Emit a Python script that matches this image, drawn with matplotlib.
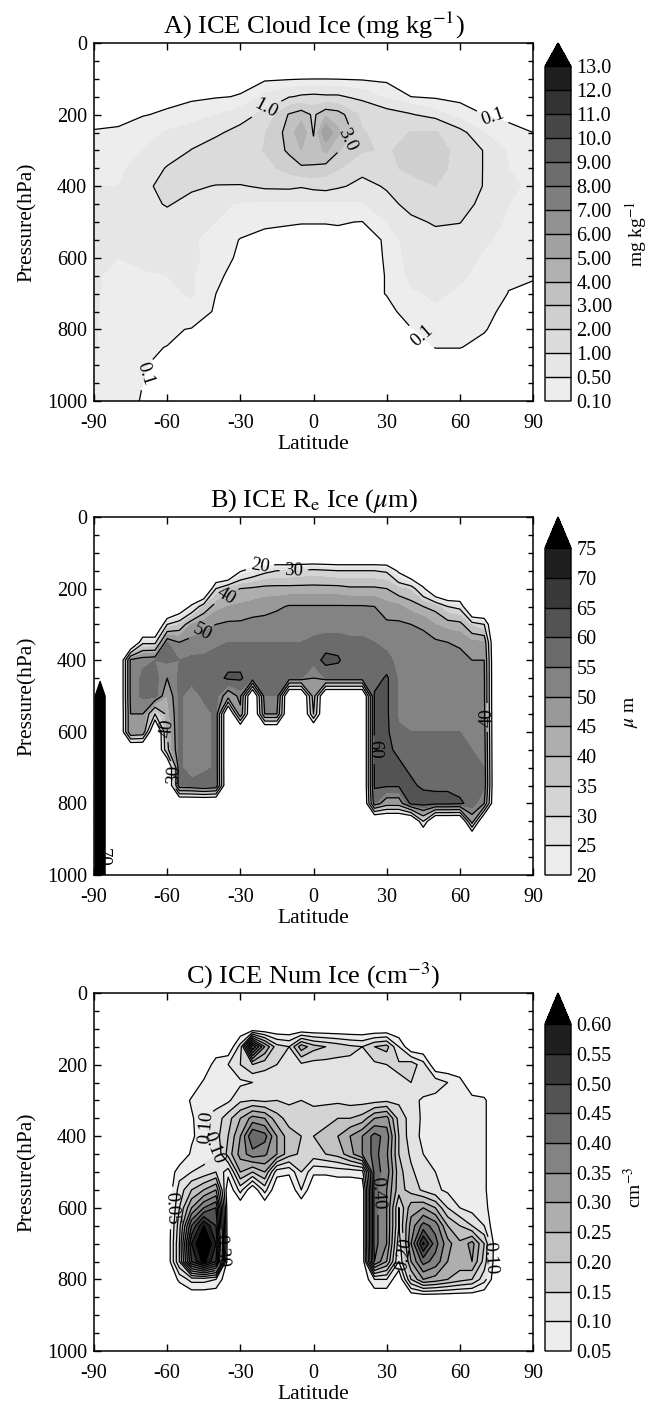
import numpy as np
import matplotlib
matplotlib.use("Agg")
import matplotlib.pyplot as plt
from matplotlib.colors import ListedColormap, BoundaryNorm

plt.rcParams["font.family"] = ["Liberation Serif", "DejaVu Serif"]
plt.rcParams["mathtext.fontset"] = "stix"
plt.rcParams["axes.unicode_minus"] = False

# pressure levels shared by all three panels (hPa)
PLEV = [0, 50, 100, 150, 200, 250, 300, 350, 400, 450, 500,
        550, 600, 650, 700, 750, 800, 850, 900, 950, 1000]

# ---- A) cloud ice, mg/kg : one row per pressure level ----
LAT_A = [-90, -80, -70, -60, -50, -40, -30, -20, -10, -5, 0, 5, 10, 20, 30, 40, 50, 60, 70, 80, 90]
ICE_A = [
    [0] * 21,
    [0] * 21,
    [0, 0, 0, 0, 0, 0, 0, 0.03, 0.06, 0.08, 0.09, 0.09, 0.08, 0.05, 0.02, 0, 0, 0, 0, 0, 0],
    [0, 0, 0, 0, 0.03, 0.07, 0.12, 0.6, 0.95, 1.1, 1.15, 1.1, 1.1, 0.8, 0.4, 0.1, 0.04, 0, 0, 0, 0],
    [0, 0, 0.08, 0.15, 0.3, 0.5, 0.75, 1.15, 3.1, 3.6, 2.8, 3.8, 3.5, 1.7, 1.3, 1.05, 0.7, 0.3, 0.1, 0.02, 0],
    [0.12, 0.15, 0.3, 0.55, 0.72, 0.9, 1.2, 1.95, 3.4, 4.8, 2.9, 6.0, 4.2, 2.1, 1.5, 2.05, 2.1, 1.2, 0.5, 0.2, 0.1],
    [0.3, 0.35, 0.5, 0.7, 1.02, 1.3, 1.6, 2.05, 3.2, 4.0, 3.4, 4.2, 3.1, 2.1, 1.9, 2.3, 2.4, 1.7, 0.95, 0.45, 0.35],
    [0.45, 0.45, 0.6, 1.05, 1.25, 1.4, 1.5, 1.6, 2.4, 2.8, 2.9, 2.6, 2.1, 1.15, 1.7, 2.3, 2.3, 1.7, 0.95, 0.5, 0.4],
    [0.5, 0.5, 0.85, 1.2, 1.1, 0.97, 0.95, 1.1, 1.12, 1.05, 1.15, 1.2, 1.08, 0.85, 1.05, 1.5, 2.0, 1.6, 0.95, 0.55, 0.45],
    [0.55, 0.55, 0.8, 1.05, 0.8, 0.6, 0.45, 0.4, 0.4, 0.4, 0.4, 0.4, 0.4, 0.45, 0.85, 1.15, 1.4, 1.3, 0.8, 0.5, 0.45],
    [0.55, 0.6, 0.75, 0.75, 0.6, 0.5, 0.3, 0.15, 0.12, 0.11, 0.11, 0.11, 0.12, 0.09, 0.5, 0.9, 1.05, 1.02, 0.65, 0.45, 0.4],
    [0.55, 0.55, 0.7, 0.65, 0.55, 0.35, 0.08, 0.02, 0.02, 0.02, 0.02, 0.02, 0.02, 0, 0.13, 0.8, 0.85, 0.75, 0.55, 0.4, 0.35],
    [0.55, 0.5, 0.6, 0.55, 0.6, 0.3, 0.02, 0, 0, 0, 0, 0, 0, 0, 0.12, 0.7, 0.75, 0.65, 0.45, 0.3, 0.3],
    [0.55, 0.4, 0.45, 0.5, 0.55, 0.15, 0, 0, 0, 0, 0, 0, 0, 0, 0.11, 0.6, 0.65, 0.55, 0.4, 0.15, 0.12],
    [0.55, 0.35, 0.35, 0.4, 0.55, 0.1, 0, 0, 0, 0, 0, 0, 0, 0, 0.11, 0.45, 0.55, 0.45, 0.3, 0.09, 0.05],
    [0.55, 0.3, 0.25, 0.3, 0.35, 0.05, 0, 0, 0, 0, 0, 0, 0, 0, 0.03, 0.2, 0.45, 0.3, 0.15, 0.05, 0],
    [0.55, 0.25, 0.15, 0.15, 0.08, 0, 0, 0, 0, 0, 0, 0, 0, 0, 0, 0.09, 0.15, 0.15, 0.11, 0.03, 0],
    [0.55, 0.2, 0.13, 0.095, 0.03, 0, 0, 0, 0, 0, 0, 0, 0, 0, 0, 0.02, 0.105, 0.105, 0.06, 0, 0],
    [0.5, 0.17, 0.11, 0.06, 0, 0, 0, 0, 0, 0, 0, 0, 0, 0, 0, 0, 0, 0, 0, 0, 0],
    [0.5, 0.15, 0.1, 0.05, 0, 0, 0, 0, 0, 0, 0, 0, 0, 0, 0, 0, 0, 0, 0, 0, 0],
    [0.5, 0.13, 0.095, 0.04, 0, 0, 0, 0, 0, 0, 0, 0, 0, 0, 0, 0, 0, 0, 0, 0, 0],
]
LEV_A = [0.1, 0.5, 1, 2, 3, 4, 5, 6, 7, 8, 9, 10, 11, 12, 13]
TICKS_A = ["0.10", "0.50", "1.00", "2.00", "3.00", "4.00", "5.00", "6.00",
           "7.00", "8.00", "9.00", "10.0", "11.0", "12.0", "13.0"]
LINES_A = [0.1, 1.0, 3.0]

# ---- B) effective radius, um : one list per latitude (0..1000 hPa) ----
LAT_B = [-90, -87.5, -85, -80, -75, -70, -65, -60, -55, -50, -45, -40, -35, -30, -25,
         -20, -15, -10, -5, 0, 5, 10, 15, 20, 25, 30, 35, 40, 45, 50, 55, 60, 65, 70,
         75, 80, 85, 90]
RE_B = [
    [0] * 21,
    [0] * 10 + [110] * 11,
    [0] * 21,
    [0] * 21,
    [0, 0, 0, 0, 0, 0, 0, 0, 52, 52, 52, 50, 50, 0, 0, 0, 0, 0, 0, 0, 0],
    [0, 0, 0, 0, 0, 0, 0, 28, 54, 56, 56, 50, 48, 0, 0, 0, 0, 0, 0, 0, 0],
    [0, 0, 0, 0, 0, 0, 0, 28, 55, 57, 57, 30, 0, 0, 0, 0, 0, 0, 0, 0, 0],
    [0, 0, 0, 0, 0, 0, 30, 55, 56, 50, 45, 42, 40, 38, 0, 0, 0, 0, 0, 0, 0],
    [0, 0, 0, 0, 0, 10, 35, 50, 55, 56, 56, 56, 56, 56, 56, 56, 0, 0, 0, 0, 0],
    [0, 0, 0, 0, 0, 22, 45, 52, 56, 57, 52, 52, 52, 52, 52, 57, 0, 0, 0, 0, 0],
    [0, 0, 0, 0, 0, 35, 48, 53, 56, 57, 56, 53, 53, 53, 53, 60, 0, 0, 0, 0, 0],
    [0, 0, 0, 0, 30, 43, 50, 54, 57, 58, 57, 56, 56, 56, 56, 57, 0, 0, 0, 0, 0],
    [0, 0, 0, 0, 38, 45, 51, 55, 58, 61, 45, 0, 0, 0, 0, 0, 0, 0, 0, 0, 0],
    [0, 0, 0, 19, 40, 46, 51, 55, 58, 61, 52, 48, 0, 0, 0, 0, 0, 0, 0, 0, 0],
    [0, 0, 0, 24, 41, 47, 52, 55, 57, 56, 0, 0, 0, 0, 0, 0, 0, 0, 0, 0, 0],
    [0, 0, 0, 28, 42, 48, 52, 55, 56, 56, 55, 50, 0, 0, 0, 0, 0, 0, 0, 0, 0],
    [0, 0, 0, 30, 42, 49, 53, 55, 56, 56, 55, 50, 0, 0, 0, 0, 0, 0, 0, 0, 0],
    [0, 0, 0, 30, 42, 50.5, 53, 55, 56, 55, 0, 0, 0, 0, 0, 0, 0, 0, 0, 0, 0],
    [0, 0, 0, 31, 42, 50.5, 53, 55, 58, 55, 0, 0, 0, 0, 0, 0, 0, 0, 0, 0, 0],
    [0, 0, 0, 32, 42, 50.5, 53, 56, 57, 50, 45, 40, 0, 0, 0, 0, 0, 0, 0, 0, 0],
    [0, 0, 0, 31, 42, 50.5, 53, 57, 62, 55, 0, 0, 0, 0, 0, 0, 0, 0, 0, 0, 0],
    [0, 0, 0, 30, 42, 50.5, 53, 57, 61, 55, 0, 0, 0, 0, 0, 0, 0, 0, 0, 0, 0],
    [0, 0, 0, 30, 41, 50.5, 53, 56, 56, 55, 0, 0, 0, 0, 0, 0, 0, 0, 0, 0, 0],
    [0, 0, 0, 30, 41, 50.5, 53, 56, 56, 55, 0, 0, 0, 0, 0, 0, 0, 0, 0, 0, 0],
    [0, 0, 0, 30, 41, 50, 52, 55, 56, 57, 61, 61, 61, 61, 61, 61, 55, 0, 0, 0, 0],
    [0, 0, 0, 29, 40, 47, 51, 54, 56, 61, 61, 61, 61, 61, 61, 61, 45, 0, 0, 0, 0],
    [0, 0, 0, 18, 36, 46, 51, 53, 54, 54, 54, 54, 56, 59, 61, 61, 45, 0, 0, 0, 0],
    [0, 0, 0, 8, 34, 43, 50, 52, 53, 54, 54, 54, 55, 57, 59, 61, 62, 0, 0, 0, 0],
    [0, 0, 0, 0, 22, 40, 49, 52, 53, 53, 53, 54, 55, 56, 57, 59, 63, 30, 0, 0, 0],
    [0, 0, 0, 0, 5, 38, 45, 51, 52, 52, 53, 54, 55, 56, 57, 59, 62, 0, 0, 0, 0],
    [0, 0, 0, 0, 0, 30, 43, 50, 51, 52, 52, 53, 55, 56, 57, 59, 62, 0, 0, 0, 0],
    [0, 0, 0, 0, 0, 28, 42, 49, 52, 52, 52, 53, 55, 56, 57, 58, 61, 0, 0, 0, 0],
    [0, 0, 0, 0, 0, 0, 34, 46, 50, 51, 52, 53, 54, 55, 56, 57, 58, 45, 0, 0, 0],
    [0, 0, 0, 0, 0, 0, 30, 46, 50, 51, 51, 52, 53, 54, 55, 56, 50, 0, 0, 0, 0],
    [0] * 21,
    [0] * 21,
    [0] * 21,
    [0] * 21,
]
LEV_B = [20, 25, 30, 35, 40, 45, 50, 55, 60, 65, 70, 75]
TICKS_B = [str(v) for v in LEV_B]
LINES_B = [20, 30, 40, 50, 60, 70]

# ---- C) ice number, cm-3 : one list per latitude (0..1000 hPa) ----
LAT_C = [-90, -85, -80, -75, -70, -65, -60, -55, -50, -45, -40, -35, -30, -25, -20,
         -15, -10, -5, 0, 5, 10, 15, 20, 25, 30, 35, 40, 45, 50, 55, 60, 65, 70, 75,
         80, 85, 90]
NUM_C = [
    [0] * 21, [0] * 21, [0] * 21, [0] * 21, [0] * 21, [0] * 21, [0] * 21,
    [0, 0, 0, 0, 0, 0, 0, 0, 0, 0, 0.08, 0.12, 0.15, 0.18, 0.2, 0.2, 0.06, 0, 0, 0, 0],
    [0, 0, 0, 0, 0, 0, 0.06, 0.04, 0.04, 0.06, 0.1, 0.2, 0.3, 0.45, 0.55, 0.5, 0.12, 0, 0, 0, 0],
    [0, 0, 0, 0, 0, 0.06, 0.07, 0.1, 0.08, 0.07, 0.12, 0.25, 0.4, 0.6, 0.68, 0.62, 0.12, 0, 0, 0, 0],
    [0, 0, 0, 0, 0.08, 0.07, 0.08, 0.12, 0.13, 0.1, 0.15, 0.3, 0.45, 0.5, 0.55, 0.5, 0.1, 0, 0, 0, 0],
    [0, 0, 0, 0, 0.1, 0.08, 0.09, 0.18, 0.2, 0.22, 0.07, 0, 0, 0, 0, 0, 0, 0, 0, 0, 0],
    [0, 0, 0, 0.12, 0.15, 0.09, 0.14, 0.25, 0.3, 0.32, 0.25, 0.12, 0, 0, 0, 0, 0, 0, 0, 0, 0],
    [0, 0, 0, 0.5, 0.2, 0.1, 0.15, 0.32, 0.45, 0.38, 0.2, 0, 0, 0, 0, 0, 0, 0, 0, 0, 0],
    [0, 0, 0, 0.3, 0.17, 0.11, 0.14, 0.3, 0.42, 0.36, 0.25, 0.12, 0, 0, 0, 0, 0, 0, 0, 0, 0],
    [0, 0, 0, 0.17, 0.15, 0.11, 0.15, 0.22, 0.3, 0.3, 0.07, 0, 0, 0, 0, 0, 0, 0, 0, 0, 0],
    [0, 0, 0, 0.15, 0.13, 0.12, 0.14, 0.18, 0.22, 0.22, 0.06, 0, 0, 0, 0, 0, 0, 0, 0, 0, 0],
    [0, 0, 0, 0.28, 0.14, 0.12, 0.15, 0.17, 0.2, 0.19, 0.15, 0.1, 0, 0, 0, 0, 0, 0, 0, 0, 0],
    [0, 0, 0, 0.22, 0.13, 0.12, 0.14, 0.17, 0.2, 0.18, 0.06, 0, 0, 0, 0, 0, 0, 0, 0, 0, 0],
    [0, 0, 0, 0.2, 0.13, 0.12, 0.14, 0.18, 0.22, 0.2, 0.06, 0, 0, 0, 0, 0, 0, 0, 0, 0, 0],
    [0, 0, 0, 0.18, 0.13, 0.12, 0.14, 0.2, 0.25, 0.22, 0.07, 0, 0, 0, 0, 0, 0, 0, 0, 0, 0],
    [0, 0, 0, 0.16, 0.14, 0.12, 0.13, 0.2, 0.3, 0.28, 0.07, 0, 0, 0, 0, 0, 0, 0, 0, 0, 0],
    [0, 0, 0, 0.15, 0.14, 0.12, 0.13, 0.22, 0.35, 0.35, 0.08, 0, 0, 0, 0, 0, 0, 0, 0, 0, 0],
    [0, 0, 0, 0.2, 0.14, 0.12, 0.13, 0.3, 0.42, 0.42, 0.42, 0.42, 0.42, 0.42, 0.42, 0.4, 0.1, 0, 0, 0, 0],
    [0, 0, 0, 0.22, 0.15, 0.13, 0.14, 0.32, 0.38, 0.36, 0.38, 0.35, 0.35, 0.35, 0.35, 0.3, 0.1, 0, 0, 0, 0],
    [0, 0, 0, 0.1, 0.16, 0.14, 0.14, 0.18, 0.2, 0.2, 0.22, 0.22, 0.15, 0.15, 0.12, 0.1, 0, 0, 0, 0, 0],
    [0, 0, 0, 0, 0.18, 0.15, 0.12, 0.13, 0.12, 0.14, 0.16, 0.18, 0.28, 0.32, 0.35, 0.3, 0.2, 0, 0, 0, 0],
    [0, 0, 0, 0, 0.12, 0.14, 0.09, 0.09, 0.09, 0.1, 0.12, 0.14, 0.3, 0.42, 0.56, 0.42, 0.3, 0, 0, 0, 0],
    [0, 0, 0, 0, 0, 0.13, 0.08, 0.07, 0.07, 0.08, 0.1, 0.11, 0.25, 0.38, 0.42, 0.38, 0.28, 0, 0, 0, 0],
    [0, 0, 0, 0, 0, 0.1, 0.07, 0.06, 0.06, 0.07, 0.08, 0.09, 0.15, 0.25, 0.32, 0.3, 0.25, 0, 0, 0, 0],
    [0, 0, 0, 0, 0, 0.07, 0.07, 0.06, 0.06, 0.06, 0.07, 0.08, 0.1, 0.2, 0.26, 0.28, 0.22, 0, 0, 0, 0],
    [0, 0, 0, 0, 0, 0, 0.07, 0.06, 0.06, 0.06, 0.06, 0.07, 0.08, 0.15, 0.32, 0.3, 0.2, 0, 0, 0, 0],
    [0, 0, 0, 0, 0, 0, 0.06, 0.06, 0.06, 0.06, 0.06, 0.06, 0.07, 0.1, 0.2, 0.18, 0.12, 0, 0, 0, 0],
    [0] * 21, [0] * 21, [0] * 21, [0] * 21,
]
LEV_C = [0.05, 0.10, 0.15, 0.20, 0.25, 0.30, 0.35, 0.40, 0.45, 0.50, 0.55, 0.60]
TICKS_C = [f"{v:.2f}" for v in LEV_C]
LINES_C = LEV_C

W, H = 652, 1405


def grays(n):
    t = np.linspace(0, 1, n)
    return [str(round(v, 3)) for v in 0.93 - 0.81 * t ** 1.3]


def panel(fig, top_px, lats, field, levels, ticklabels, line_levels, fmt,
          title, cblabel, extendfrac, label_pts):
    bottom = (H - top_px - 358) / H
    ax = fig.add_axes([94 / W, bottom, 439 / W, 358 / H])
    cax = fig.add_axes([545 / W, bottom, 26 / W, 358 / H])

    cmap = ListedColormap(grays(len(levels) - 1))
    cmap.set_over("black")
    norm = BoundaryNorm(levels, cmap.N)

    cf = ax.contourf(lats, PLEV, field, levels=levels, cmap=cmap, norm=norm, extend="max")
    cl = ax.contour(lats, PLEV, field, levels=line_levels, colors="k", linewidths=0.9)
    ax.clabel(cl, fmt=fmt, fontsize=13.5, inline=True, manual=label_pts)

    ax.set_xlim(-90, 90)
    ax.set_ylim(1000, 0)
    ax.set_xticks(range(-90, 91, 30))
    ax.set_yticks(range(0, 1001, 200))
    ax.set_yticks(range(0, 1001, 50), minor=True)
    ax.tick_params(which="both", direction="in", top=True, right=True,
                   labelsize=14.5, width=1.0, pad=5)
    ax.tick_params(axis="x", pad=9)
    ax.tick_params(which="major", length=5)
    ax.tick_params(which="minor", length=3.5)
    for s in ax.spines.values():
        s.set_linewidth(1.1)
    ax.set_title(title, fontsize=19, pad=7)
    ax.set_xlabel("Latitude", fontsize=15.5, labelpad=2)
    ax.set_ylabel("Pressure(hPa)", fontsize=15.5, labelpad=7)

    cb = fig.colorbar(cf, cax=cax, extendfrac=extendfrac, drawedges=True, ticks=levels)
    cb.set_ticklabels(ticklabels)
    cb.outline.set_linewidth(1.0)
    cb.dividers.set_linewidth(1.0)
    cax.tick_params(length=0, labelsize=14.5, pad=4)
    cb.set_label(cblabel, fontsize=14)
    cax.yaxis.set_label_coords(3.0, 0.5)
    return ax


fig = plt.figure(figsize=(W / 100, H / 100), dpi=100)

panel(fig, 43, LAT_A, np.array(ICE_A), LEV_A, TICKS_A, LINES_A, "%.1f",
      "A) ICE Cloud Ice (mg kg$^{-1}$)", "mg kg$^{-1}$", 0.07,
      [(-20, 175), (13, 265), (73, 215), (45, 815), (-74, 915)])

panel(fig, 517, LAT_B, np.array(RE_B).T, LEV_B, TICKS_B, LINES_B, "%d",
      "B) ICE R$_\\mathrm{e}$ Ice ($\\mu$m)", "$\\mu$ m", 0.095,
      [(-22, 138), (-8, 152), (-37, 210), (-46, 318), (-61, 590), (-57, 720),
       (27, 650), (71, 560), (-87, 950)])

panel(fig, 993, LAT_C, np.array(NUM_C).T, LEV_C, TICKS_C, LINES_C, "%.2f",
      "C) ICE Num Ice (cm$^{-3}$)", "cm$^{-3}$", 0.095,
      [(-60, 600), (-46, 380), (-40, 430), (-38, 720), (27, 560), (37, 730),
       (72, 740)])

fig.savefig("out.png", dpi=100)
